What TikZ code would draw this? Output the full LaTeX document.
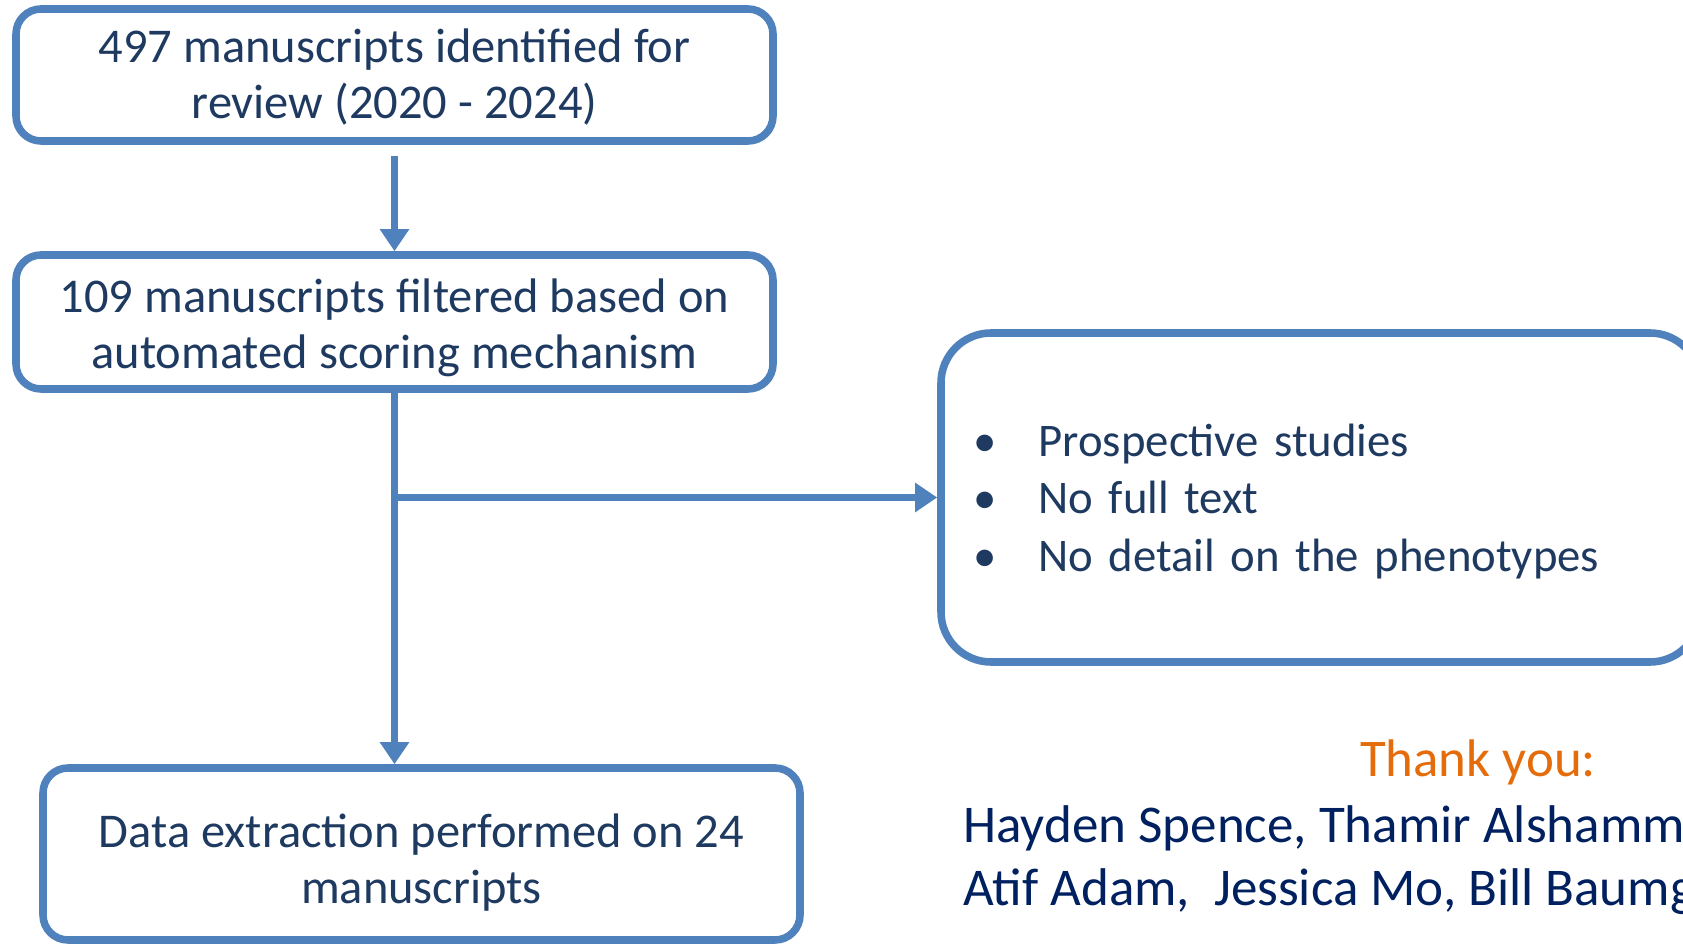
\documentclass[tikz,border=0pt]{standalone}
\usepackage{fontspec}
\setmainfont{Carlito}
\usepackage{tikz}
\usetikzlibrary{arrows.meta}
\usetikzlibrary{positioning}
\definecolor{boxblue}{HTML}{4F81BD}
\definecolor{boxtext}{HTML}{1F3A60}
\definecolor{namecol}{HTML}{002060}
\definecolor{thankcol}{HTML}{E46C0A}
\begin{document}
\begin{tikzpicture}[
    box/.style={draw=boxblue, line width=4.3pt, rounded corners=0.5cm, fill=white,
        text=boxtext, align=center, minimum width=15.14cm,
        font=\fontsize{27.6}{31.9}\selectfont},
    flow/.style={draw=boxblue, line width=4.4pt,
        -{Triangle[width=0.56cm, length=0.44cm]}}
]
    \useasboundingbox (0, 0) rectangle (33.66, 18.88);
    \clip (0, 0) rectangle (33.66, 18.88);

    \node [box, minimum height=2.64cm] (found) at (7.89, 17.38)
        {\rule{0pt}{0.76cm}497 manuscripts identified for\\review (2020 - 2024)};
    \node [box, minimum height=2.68cm] (filtered) at (7.89, 12.44)
        {\rule{0pt}{0.9cm}109 manuscripts filtered based on\\automated scoring mechanism};
    \node [box, minimum height=3.44cm] (extract) at (8.43, 1.8)
        {\rule{0pt}{1.0cm}Data extraction performed on 24\\manuscripts};

    \node [box, rounded corners=1cm, minimum width=15.18cm, minimum height=6.58cm,
        text width=13.9cm, inner xsep=0.64cm, align=left,
        font=\fontsize{26.6}{32.6}\selectfont] (excluded) at (26.41, 8.93)
        {\rule{0pt}{0.8cm}\makebox[1.31cm][l]{\textbullet}Prospective studies\\
         \makebox[1.31cm][l]{\textbullet}No full text\\
         \makebox[1.31cm][l]{\textbullet}No detail on the phenotypes};

    \draw [flow, shorten <=0.22cm] (found) -- (filtered);
    \draw [flow] (filtered.south) -- (filtered.south |- extract.north);
    \draw [flow] (filtered.south |- excluded.west) -- (excluded.west);

    \node [text=thankcol, font=\fontsize{30.1}{36}\selectfont] (thanks) at (29.56, 3.64)
        {Thank you:};
    \node [text=namecol, anchor=west, align=left, inner xsep=0pt,
        font=\fontsize{30.2}{35.9}\selectfont] (names) at (19.26, 1.67)
        {Hayden Spence, Thamir Alshamm\\Atif Adam,\ \ Jessica Mo, Bill Baumg};
\end{tikzpicture}
\end{document}
